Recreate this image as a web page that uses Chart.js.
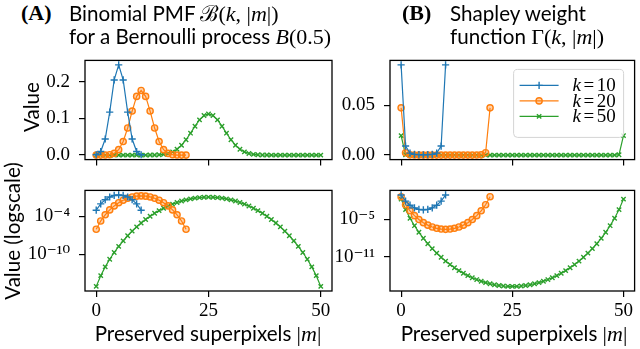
<!DOCTYPE html>
<html><head><meta charset="utf-8">
<script src="https://cdn.jsdelivr.net/npm/chart.js@4.4.1/dist/chart.umd.min.js"></script>
<style>
body{margin:0;width:640px;height:349px;position:relative;background:#fff;overflow:hidden;}
canvas{position:absolute;}
.t{position:absolute;white-space:nowrap;font-family:Lato,"DejaVu Sans",sans-serif;font-size:20.6px;color:#000;line-height:1;}
.s{font-family:"Liberation Serif","DejaVu Serif",serif;font-size:22px;}
.i{font-family:"Liberation Serif","DejaVu Serif",serif;font-style:italic;font-size:22px;}
.b{font-family:"Liberation Serif","DejaVu Serif",serif;font-weight:bold;font-size:22px;}
.rot{transform:translate(-50%,-50%) rotate(-90deg);}
.cx{transform:translate(-50%,0);}
</style></head><body>
<canvas id="cAT" width="340" height="140" style="left:0;top:40px"></canvas>
<canvas id="cAB" width="340" height="179" style="left:0;top:170px"></canvas>
<canvas id="cBT" width="310" height="140" style="left:330px;top:40px"></canvas>
<canvas id="cBB" width="310" height="179" style="left:330px;top:170px"></canvas>

<div class="t b" style="left:21px;top:2px">(A)</div>
<div class="t" style="left:69px;top:3px">Binomial PMF <span class="s">ℬ(</span><span class="i">k</span><span class="s">, |</span><span class="i">m</span><span class="s">|)</span></div>
<div class="t" style="left:69px;top:26px">for a Bernoulli process <span class="i">B</span><span class="s">(0.5)</span></div>
<div class="t b" style="left:402px;top:2px">(B)</div>
<div class="t" style="left:450px;top:3px">Shapley weight</div>
<div class="t" style="left:450px;top:26px">function <span class="s">Γ(</span><span class="i">k</span><span class="s">, |</span><span class="i">m</span><span class="s">|)</span></div>
<div class="t rot" style="left:31px;top:107px">Value</div>
<div class="t rot" style="left:12px;top:231px">Value (logscale)</div>
<div class="t cx" style="left:208px;top:323px">Preserved superpixels <span class="s">|</span><span class="i">m</span><span class="s">|</span></div>
<div class="t cx" style="left:514px;top:323px">Preserved superpixels <span class="s">|</span><span class="i">m</span><span class="s">|</span></div>

<script>
// ---- data ----
const seriesLabels = ["k=10", "k=20", "k=50"];
const xTicks = [0, 25, 50];
const yTicksAT = [0, 0.1, 0.2];
const yTicksBT = [0, 0.05];
const yTicksAB = [1e-10, 1e-4];
const yTicksBB = [1e-11, 1e-5];

const binom10 = [0.000977, 0.009766, 0.043945, 0.117188, 0.205078, 0.246094, 0.205078, 0.117188, 0.043945, 0.009766, 0.000977];
const binom20 = [9.537e-7, 1.907e-5, 1.812e-4, 1.087e-3, 4.621e-3, 1.4786e-2, 3.6964e-2, 7.3929e-2, 0.120134, 0.160179, 0.176197, 0.160179, 0.120134, 7.3929e-2, 3.6964e-2, 1.4786e-2, 4.621e-3, 1.087e-3, 1.812e-4, 1.907e-5, 9.537e-7];
const binom50 = [8.882e-16, 4.441e-14, 1.088e-12, 1.741e-11, 2.046e-10, 1.882e-9, 1.411e-8, 8.872e-8, 4.768e-7, 2.225e-6, 9.124e-6, 3.318e-5, 1.078e-4, 3.152e-4, 8.330e-4, 1.999e-3, 4.373e-3, 8.746e-3, 1.6035e-2, 2.7006e-2, 4.1859e-2, 5.9799e-2, 7.8826e-2, 9.5962e-2, 0.107957, 0.112275, 0.107957, 9.5962e-2, 7.8826e-2, 5.9799e-2, 4.1859e-2, 2.7006e-2, 1.6035e-2, 8.746e-3, 4.373e-3, 1.999e-3, 8.330e-4, 3.152e-4, 1.078e-4, 3.318e-5, 9.124e-6, 2.225e-6, 4.768e-7, 8.872e-8, 1.411e-8, 1.882e-9, 2.046e-10, 1.741e-11, 1.088e-12, 4.441e-14, 8.882e-16];

const shap10 = [0.090909, 0.0090909, 0.0020202, 7.576e-4, 4.329e-4, 3.608e-4, 4.329e-4, 7.576e-4, 0.0020202, 0.0090909, 0.090909];
const shap20 = [0.047619, 2.381e-3, 2.506e-4, 4.177e-5, 9.828e-6, 3.071e-6, 1.229e-6, 6.143e-7, 3.780e-7, 2.835e-7, 2.577e-7, 2.835e-7, 3.780e-7, 6.143e-7, 1.229e-6, 3.071e-6, 9.828e-6, 4.177e-5, 2.506e-4, 2.381e-3, 0.047619];
const shap50 = [0.019608, 3.922e-4, 1.601e-5, 1.000e-6, 8.514e-8, 9.254e-9, 1.234e-9, 1.963e-10, 3.652e-11, 7.826e-12, 1.909e-12, 5.249e-13, 1.615e-13, 5.526e-14, 2.091e-14, 8.711e-15, 3.982e-15, 1.991e-15, 1.086e-15, 6.449e-16, 4.161e-16, 2.912e-16, 2.209e-16, 1.815e-16, 1.613e-16, 1.551e-16, 1.613e-16, 1.815e-16, 2.209e-16, 2.912e-16, 4.161e-16, 6.449e-16, 1.086e-15, 1.991e-15, 3.982e-15, 8.711e-15, 2.091e-14, 5.526e-14, 1.615e-13, 5.249e-13, 1.909e-12, 7.826e-12, 3.652e-11, 1.963e-10, 1.234e-9, 9.254e-9, 8.514e-8, 1.000e-6, 1.601e-5, 3.922e-4, 0.019608];

// ---- styling ----
const COLORS = ['#1f77b4', '#ff7f0e', '#2ca02c'];
const FILLS = ['#1f77b4', 'rgba(255,127,14,0.35)', '#2ca02c'];
const STYLES = ['cross', 'circle', 'crossRot'];
const RADII = [3.6, 3.1, 3.1];
const TICKFONT = {family: '"Liberation Serif","DejaVu Serif",serif', size: 19};

function toPts(arr) { return arr.map((v, i) => ({x: i, y: v})); }
function makeSets(list) {
  return list.map((arr, k) => ({
    label: seriesLabels[k], data: toPts(arr),
    borderColor: COLORS[k], backgroundColor: FILLS[k],
    borderWidth: 1.2, pointStyle: STYLES[k], pointRadius: RADII[k],
    pointBorderWidth: 1.4, pointBorderColor: COLORS[k], pointBackgroundColor: FILLS[k],
    tension: 0, clip: 8
  }));
}
const supMap = {'-': '⁻', '0': '⁰', '1': '¹', '2': '²', '3': '³', '4': '⁴', '5': '⁵', '6': '⁶', '7': '⁷', '8': '⁸', '9': '⁹'};
function logLabel(v) { const e = String(Math.round(Math.log10(v))); return '10' + e.split('').map(c => supMap[c]).join(''); }

const framePlugin = {
  id: 'frame',
  afterDraw(chart) {
    const a = chart.chartArea, ctx = chart.ctx;
    ctx.save(); ctx.strokeStyle = '#000'; ctx.lineWidth = 1.3;
    ctx.strokeRect(a.left, a.top, a.right - a.left, a.bottom - a.top);
    ctx.restore();
  }
};
const legendPlugin = {
  id: 'boxLegend',
  afterDraw(chart) {
    const a = chart.chartArea, ctx = chart.ctx;
    const w = 110, h = 68, x0 = a.right - 11 - w, y0 = a.top + 9;
    ctx.save();
    ctx.beginPath();
    if (ctx.roundRect) ctx.roundRect(x0, y0, w, h, 4); else ctx.rect(x0, y0, w, h);
    ctx.fillStyle = 'rgba(255,255,255,0.85)'; ctx.fill();
    ctx.strokeStyle = '#d4d4d4'; ctx.lineWidth = 1; ctx.stroke();
    chart.data.datasets.forEach((ds, k) => {
      const y = y0 + 16 + k * 15.5;
      ctx.strokeStyle = ds.borderColor; ctx.lineWidth = 1.2;
      ctx.beginPath(); ctx.moveTo(x0 + 6, y); ctx.lineTo(x0 + 45, y); ctx.stroke();
      ctx.fillStyle = ds.pointBackgroundColor; ctx.strokeStyle = ds.pointBorderColor; ctx.lineWidth = 1.4;
      Chart.helpers.drawPoint(ctx, {pointStyle: ds.pointStyle, radius: ds.pointRadius, borderWidth: 1.4, rotation: 0}, x0 + 25.5, y);
      const parts = ds.label.split('=');
      ctx.fillStyle = '#000'; ctx.textBaseline = 'middle'; ctx.textAlign = 'left';
      let tx = x0 + 59;
      ctx.font = 'italic 19px "Liberation Serif","DejaVu Serif",serif';
      ctx.fillText(parts[0], tx, y + 1); tx += ctx.measureText(parts[0]).width + 2.5;
      ctx.font = '19px "Liberation Serif","DejaVu Serif",serif';
      ctx.fillText('=', tx, y + 1); tx += ctx.measureText('=').width + 2.5;
      ctx.fillText(parts[1], tx, y + 1);
    });
    ctx.restore();
  }
};

function scaleTicks(values) { return s => { s.ticks = values.map(v => ({value: v})); }; }

function makeChart(id, sets, o) {
  const yBase = {
    type: o.log ? 'logarithmic' : 'linear', min: o.ymin, max: o.ymax,
    afterBuildTicks: scaleTicks(o.yticks),
    afterFit: s => { s.width = o.yw; },
    border: {display: false},
    grid: {display: true, drawOnChartArea: false, drawTicks: true, tickLength: 6, color: '#000', lineWidth: 1.2},
    ticks: {font: TICKFONT, color: '#000', padding: 9, autoSkip: false, maxRotation: 0,
      callback: o.log ? (v => logLabel(v)) : (v => v.toFixed(o.dec))}
  };
  const xBase = {
    type: 'linear', min: -2.5, max: 52.5,
    afterBuildTicks: scaleTicks(xTicks),
    afterFit: s => { s.height = o.xh; },
    border: {display: false},
    grid: {display: true, drawOnChartArea: false, drawTicks: true, tickLength: 6, color: '#000', lineWidth: 1.2},
    ticks: {display: o.xlabels, font: TICKFONT, color: '#000', padding: 3, autoSkip: false, maxRotation: 0,
      callback: v => String(v)}
  };
  return new Chart(document.getElementById(id), {
    type: 'line',
    data: {datasets: sets},
    options: {
      responsive: false, animation: false, parsing: true,
      layout: {padding: o.pad},
      plugins: {legend: {display: false}, tooltip: {enabled: false}},
      scales: {x: xBase, y: yBase}
    },
    plugins: o.legend ? [framePlugin, legendPlugin] : [framePlugin]
  });
}

makeChart('cAT', makeSets([binom10, binom20, binom50]),
  {ymin: -0.0123, ymax: 0.2584, yticks: yTicksAT, dec: 1, yw: 85, xh: 14, xlabels: false,
   pad: {top: 9, right: 8, left: 0, bottom: 0}});
makeChart('cBT', makeSets([shap10, shap20, shap50]),
  {ymin: -0.004545, ymax: 0.09545, yticks: yTicksBT, dec: 2, yw: 60, xh: 14, xlabels: false, legend: true,
   pad: {top: 9, right: 2, left: 0, bottom: 0}});
makeChart('cAB', makeSets([binom10, binom20, binom50]),
  {log: true, ymin: Math.pow(10, -15.7736), ymax: Math.pow(10, 0.1132), yticks: yTicksAB, yw: 85, xh: 58, xlabels: true,
   pad: {top: 4, right: 8, left: 0, bottom: 0}});
makeChart('cBB', makeSets([shap10, shap20, shap50]),
  {log: true, ymin: Math.pow(10, -16.5478), ymax: Math.pow(10, -0.3030), yticks: yTicksBB, yw: 60, xh: 58, xlabels: true,
   pad: {top: 4, right: 2, left: 0, bottom: 0}});
</script>
</body></html>
